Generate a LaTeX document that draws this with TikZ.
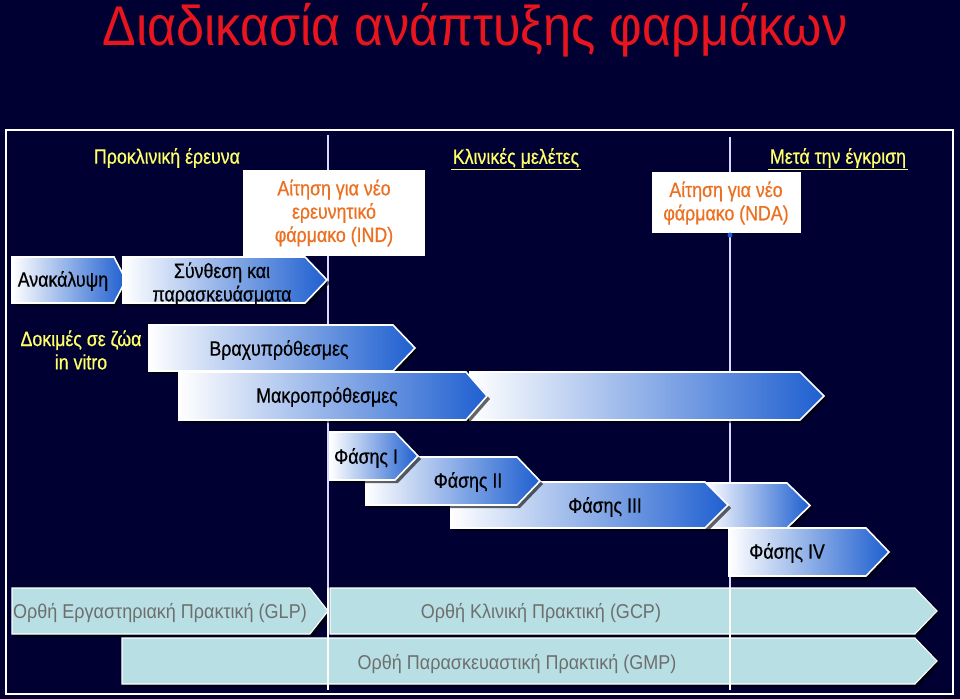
\documentclass[tikz,border=0pt]{standalone}
\usepackage{fontspec}
\setmainfont{Liberation Sans}
\newfontfamily\narrow[FakeStretch=0.86,FakeBold=0.6]{Liberation Sans}
\newfontfamily\narrowr[FakeStretch=0.9]{Liberation Sans}
\definecolor{bgnavy}{HTML}{000033}
\definecolor{chblue}{HTML}{1E5FD0}
\definecolor{ttlred}{HTML}{E8141E}
\definecolor{ylw}{HTML}{FFFF66}
\definecolor{orng}{HTML}{EC7020}
\definecolor{cyanlt}{HTML}{B8E0E4}
\definecolor{gtxt}{HTML}{6E6E6E}
\newcommand\mychev[6]{% x1,y1,x2,y2,tip, style
  \fill[black,opacity=0.6] (#1+3,#2+3) -- (#3+3,#2+3) -- (#5+3,{(#2+#4)/2+3}) -- (#3+3,#4+3) -- (#1+3,#4+3) -- cycle;
  \path[#6] (#1,#2) -- (#3,#2) -- (#5,{(#2+#4)/2}) -- (#3,#4) -- (#1,#4) -- cycle;}
\tikzset{
  grad/.style={left color=white,right color=chblue,draw=white,line width=1.2pt},
  cyan/.style={fill=cyanlt,draw=white,line width=0.8pt},
  lbl/.style={font=\narrow\fontsize{15.5}{17.5}\selectfont,text=black,align=center},
  glbl/.style={font=\narrowr\fontsize{15}{17}\selectfont,text=gtxt},
  hdr/.style={font=\narrow\fontsize{15.5}{17.5}\selectfont,text=ylw,align=center,inner sep=1pt},
  ora/.style={font=\narrow\fontsize{15.5}{17.5}\selectfont,text=orng,align=center,inner sep=0pt}
}
\begin{document}
\begin{tikzpicture}[x=0.75pt,y=-0.75pt]
\fill[bgnavy] (0,0) rectangle (960,699);
\useasboundingbox (0,0) rectangle (960,699);
\node[font=\narrowr\fontsize{42}{46}\selectfont,text=ttlred] (title) at (475,30) {Διαδικασία ανάπτυξης φαρμάκων};
\draw[white,line width=0.9pt] (6,130) rectangle (953,694);
\draw[white!85!blue,line width=0.8pt] (328,135) -- (328,690);
\draw[white!85!blue,line width=0.8pt] (730,137) -- (730,690);
\node[hdr] (h1) at (167,158) {Προκλινική έρευνα};
\node[hdr] (h2) at (516,158) {Κλινικές μελέτες};
\draw[ylw,line width=0.8pt] (h2.south west) -- (h2.south east);
\node[hdr] (h3) at (838,158) {Μετά την έγκριση};
\draw[ylw,line width=0.8pt] (h3.south west) -- (h3.south east);
% IND / NDA
\fill[white] (243,170) rectangle (425,256);
\node[ora] (ind) at (334,213) {Αίτηση για νέο\\ερευνητικό\\φάρμακο (IND)};
\fill[white] (652,172) rectangle (801,233);
\node[ora] (nda) at (726,203) {Αίτηση για νέο\\φάρμακο (NDA)};
\fill[chblue] (730,235) circle (2.5);
% preclinical chevrons
\mychev{12}{257}{114}{303}{126}{grad}
\node[lbl] (disc) at (63,281) {Ανακάλυψη};
\mychev{123}{257}{305}{303}{327}{grad}
\begin{scope}
\clip (123,257) rectangle (330,303);
\node[lbl] (synth) at (222,284) {Σύνθεση και\\παρασκευάσματα};
\end{scope}
\node[hdr] (anim) at (81,350) {Δοκιμές σε ζώα\\in vitro};
\mychev{149}{325}{393}{371}{415}{grad}
\node[lbl] (short) at (279,350) {Βραχυπρόθεσμες};
\mychev{470}{372}{800}{420}{824}{grad}
\mychev{179}{372}{466}{420}{487}{grad}
\node[lbl] (long) at (327,397) {Μακροπρόθεσμες};
% phases
\mychev{705}{483}{787}{528}{810}{grad}
\mychev{451}{482}{705}{528}{728}{grad}
\mychev{366}{457}{517}{505}{540}{grad}
\mychev{330}{432}{395}{480}{418}{grad}
\node[lbl] (p1) at (366,458) {Φάσης Ι};
\node[lbl] (p2) at (468,482) {Φάσης ΙΙ};
\node[lbl] (p3) at (605,507) {Φάσης ΙΙΙ};
\mychev{729}{528}{866}{576}{889}{grad}
\node[lbl] (p4) at (787,553) {Φάσης ΙV};
% GxP
\mychev{12}{588}{310}{634}{328}{cyan}
\node[glbl] (glp) at (160,613) {Ορθή Εργαστηριακή Πρακτική (GLP)};
\mychev{330}{588}{915}{634}{937}{cyan}
\node[glbl] (gcp) at (541,613) {Ορθή Κλινική Πρακτική (GCP)};
\mychev{122}{638}{915}{684}{937}{cyan}
\node[glbl] (gmp) at (517,664) {Ορθή Παρασκευαστική Πρακτική (GMP)};
\draw[white,line width=0.8pt] (328,588) -- (328,690);
\draw[white,line width=0.8pt] (730,588) -- (730,690);
\end{tikzpicture}
\end{document}
